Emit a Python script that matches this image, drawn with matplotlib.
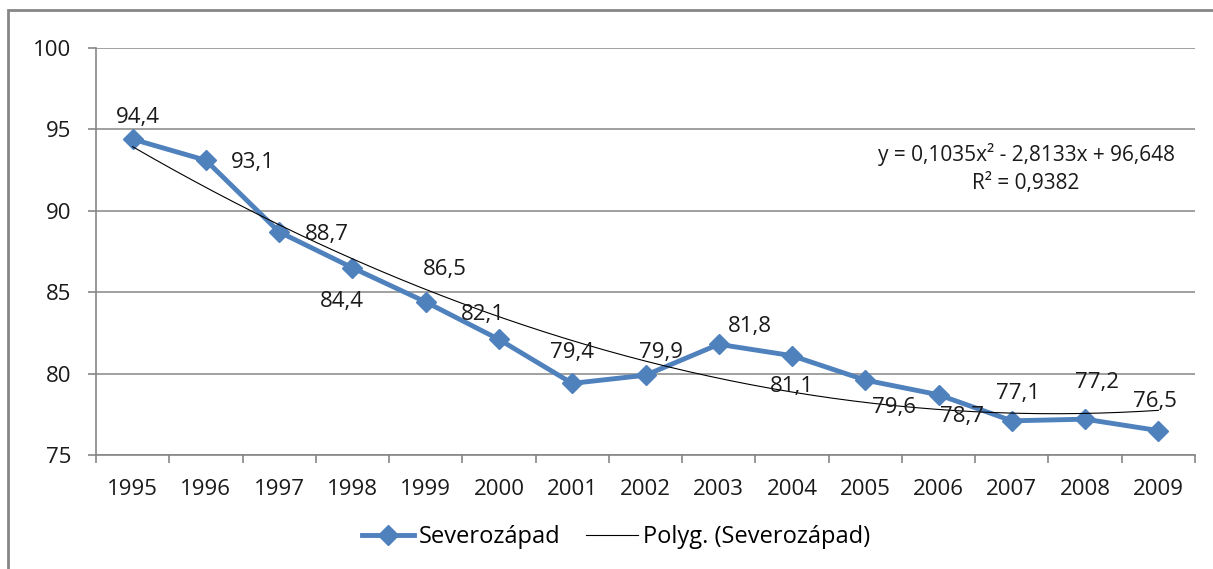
import numpy as np
import matplotlib
matplotlib.use('Agg')
import matplotlib.pyplot as plt
from matplotlib.patches import Rectangle

# data
years = ['1995', '1996', '1997', '1998', '1999', '2000', '2001', '2002',
         '2003', '2004', '2005', '2006', '2007', '2008', '2009']
values = [94.4, 93.1, 88.7, 86.5, 84.4, 82.1, 79.4, 79.9,
          81.8, 81.1, 79.6, 78.7, 77.1, 77.2, 76.5]
series_name = 'Severozápad'
trend_name = 'Polyg. (Severozápad)'
equation = 'y = 0,1035x² - 2,8133x + 96,648'
r2_text = 'R² = 0,9382'

# label offsets in pixels (dx right, dy up), as Excel placed them
lbl_off = [(5, 22), (47, -2), (48, -3), (92, -2), (-84, 0), (-16, 25), (0, 31),
           (16, 23), (31, 18), (0, -31), (29, -27), (23, -22), (6, 27), (12, 37), (-3, 29)]

plt.rcParams['font.family'] = ['Open Sans', 'DejaVu Sans']
blue = '#4F81BD'
gray = '#868686'

W, H = 1213, 569
fig = plt.figure(figsize=(W / 100, H / 100), dpi=100)
ax = fig.add_axes([96 / W, 1 - 455 / H, (1195 - 96) / W, (455 - 48) / H])

x = np.arange(len(values))
ax.plot(x, values, color=blue, lw=3.5, marker='D', ms=10, label=series_name, zorder=3)

# polynomial trend, order 2, like Excel (x = 1..n)
xn = x + 1
coef = np.polyfit(xn, values, 2)
xs = np.linspace(1, len(values), 300)
ax.plot(xs - 1, np.polyval(coef, xs), color='black', lw=0.8, label=trend_name, zorder=4)

px = 72 / 100
for i, v in enumerate(values):
    dx, dy = lbl_off[i]
    ax.annotate(('%.1f' % v).replace('.', ','), (x[i], v),
                xytext=(dx * px, dy * px), textcoords='offset points',
                ha='center', va='center', fontsize=16, color='#1a1a1a', zorder=5)

ax.text(1026 / W, 1 - 155 / H, equation, transform=fig.transFigure,
        ha='center', va='center', fontsize=15, color='#1a1a1a')
ax.text(1026 / W, 1 - 184 / H, r2_text, transform=fig.transFigure,
        ha='center', va='center', fontsize=15, color='#1a1a1a')

ax.set_xlim(-0.5, len(values) - 0.5)
ax.set_ylim(75, 100)
ax.set_yticks(np.arange(75, 101, 5))
ax.set_xticks(np.arange(-0.5, len(values), 1))
ax.set_xticklabels([])
ax.set_xticks(x, minor=True)
ax.set_xticklabels(years, minor=True)
ax.tick_params(axis='x', which='major', length=6, color=gray, width=1.2)
ax.tick_params(axis='x', which='minor', length=0, pad=17, labelsize=16, labelcolor='#1a1a1a')
ax.tick_params(axis='y', length=6, color=gray, width=1.2, pad=12, labelsize=16, labelcolor='#1a1a1a')

ax.grid(axis='y', color=gray, lw=1.1)
ax.set_axisbelow(True)
for s in ['top', 'right']:
    ax.spines[s].set_visible(False)
for s in ['left', 'bottom']:
    ax.spines[s].set_color(gray)
    ax.spines[s].set_linewidth(1.2)

fig.legend(loc='center', bbox_to_anchor=(616 / W, 1 - 537 / H), ncol=2, frameon=False,
           fontsize=17, handlelength=2.2, columnspacing=1.1, handletextpad=0.2)

fig.patches.append(Rectangle((8 / W, -0.2), 1.2, 1.2 - 10 / H, transform=fig.transFigure,
                             fill=False, edgecolor=gray, lw=2))

fig.savefig('out.png', dpi=100)
